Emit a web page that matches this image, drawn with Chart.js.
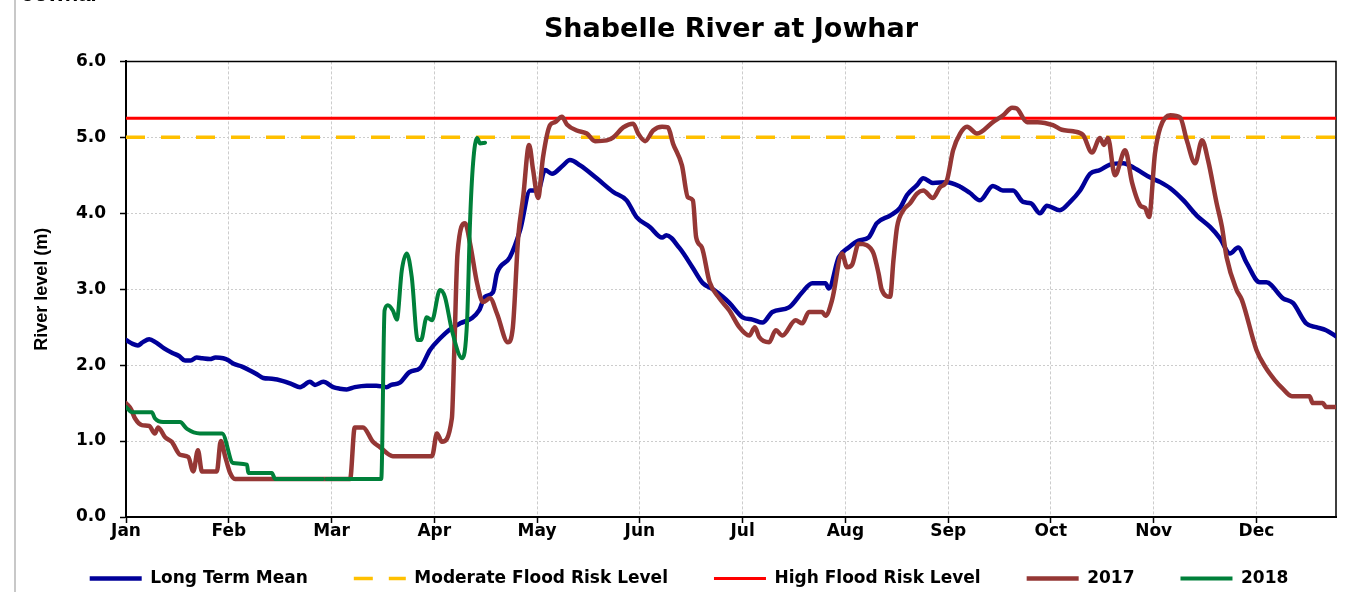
<!DOCTYPE html>
<html><head><meta charset="utf-8">
<script src="https://cdn.jsdelivr.net/npm/chart.js@4.4.1/dist/chart.umd.min.js"></script>
<style>
html,body{margin:0;padding:0;background:#fff;}
#wrap{position:relative;width:1357px;height:592px;overflow:hidden;background:#fff;}
canvas{position:absolute;left:0;top:0;}
#edge{position:absolute;left:14px;top:0;width:2px;height:592px;background:#c8c8c8;}
#cut{position:absolute;left:22px;top:-17px;font:bold 22px "Liberation Sans",Arial,sans-serif;color:#000;line-height:22px;}
</style></head><body>
<div id="wrap"><canvas id="c" width="1357" height="592"></canvas><div id="edge"></div><div id="cut">Jowhar</div></div>
<script>
// ---- data (x = day position along the axis, y = river level in m) ----
const monthLabels = ['Jan','Feb','Mar','Apr','May','Jun','Jul','Aug','Sep','Oct','Nov','Dec'];
const tickDays = [0,31,62,93,124,155,186,217,248,279,310,341];
const axisStart = 0, axisEnd = 365;
const yTicks = [0,1,2,3,4,5,6];

const meanDays = [0,2,3.6,5,7,9,11.5,14,16,17.8,19.5,21.3,23,25.3,27,29.3,31,32.3,35,37.4,39.5,41.4,44,47.4,50,52.5,55.5,57,59.5,62.5,64.5,66.6,69,72.6,75.5,78.6,80,82.6,85.6,88.7,91.7,94.7,97.7,100.8,104.4,106.5,108.3,110.7,111.9,115.8,118.9,121.9,124.3,126.4,128.5,131.8,133.9,137,142,147,151,154,158,161.7,163,167,171,174,177,180,182,186,189,192,195,200,204,207,211,212,215,218,221,224,226.5,230.5,233.5,235.6,238.6,240.5,243.4,247.6,251.6,254.5,257.6,261.5,264.5,267.6,270.6,273,275.7,277.8,281.7,284.8,287.8,290.8,293.8,296.8,300.8,304,309,312,315,319,323,327,330,333,335.5,338,342,344,349,352,356,359,362,365];
const meanLevels = [2.33,2.28,2.26,2.30,2.34,2.30,2.22,2.16,2.12,2.06,2.06,2.10,2.09,2.08,2.10,2.09,2.06,2.02,1.98,1.93,1.88,1.83,1.82,1.79,1.75,1.71,1.78,1.74,1.78,1.71,1.69,1.68,1.71,1.73,1.73,1.71,1.74,1.77,1.91,1.96,2.20,2.35,2.47,2.55,2.62,2.72,2.90,2.96,3.21,3.42,3.78,4.30,4.30,4.57,4.52,4.63,4.70,4.63,4.46,4.28,4.17,3.95,3.82,3.68,3.71,3.54,3.28,3.08,3.00,2.90,2.82,2.63,2.60,2.56,2.70,2.76,2.96,3.08,3.08,3.01,3.42,3.55,3.64,3.68,3.87,3.97,4.07,4.24,4.37,4.46,4.40,4.41,4.35,4.27,4.17,4.36,4.30,4.30,4.15,4.13,4.00,4.10,4.04,4.15,4.30,4.52,4.57,4.64,4.66,4.60,4.47,4.41,4.33,4.17,3.97,3.82,3.67,3.47,3.55,3.35,3.09,3.09,2.88,2.82,2.55,2.50,2.46,2.38];

const y2017Days = [0,1.5,2.7,4.8,7,8.7,9.7,11.8,13.8,16.3,18.8,20.3,21.7,22.9,27.4,28.6,29.9,31.4,32.9,67.6,69,71.5,74.5,76.6,80.5,92.3,93.8,95.3,98.3,99,100,102.3,103.8,105.9,107.7,109.8,111.9,115.2,116.7,118.3,119.8,121.6,122.8,124.3,125.8,127.9,129.4,131.5,133,136,139,141.5,145,147,150,153,154.5,156.6,159,161.7,163.5,165,167.7,169.5,171,172,173.7,176,179,182,185,188,189.7,191,194,196,198,202,204,206,210,211,213,216,217.5,219,221,223.5,225.5,227,228,230.5,231.5,232.6,234.5,236.5,238.6,240.5,243.4,245.5,247.6,249.5,251.6,253.7,256.7,261.5,264.6,267.3,268.7,271.8,275,279.6,282.3,285.7,288.7,291.4,293.8,295,296.2,298.3,301.4,303.5,306,307.4,308.6,310.4,312,315,318,320,322.5,324.6,326.4,329,330.6,332,335,336.6,341,343.6,346.6,348.7,351.7,357,358,361,362,365];
const y2017Levels = [1.50,1.42,1.30,1.21,1.20,1.10,1.18,1.05,0.99,0.82,0.79,0.60,0.88,0.60,0.60,1.00,0.80,0.58,0.50,0.50,1.18,1.18,0.99,0.92,0.80,0.80,1.10,0.99,1.30,2.15,3.47,3.87,3.60,3.08,2.83,2.88,2.68,2.30,2.50,3.68,4.21,4.90,4.57,4.20,4.74,5.16,5.20,5.27,5.17,5.09,5.05,4.95,4.96,5.00,5.13,5.18,5.05,4.95,5.09,5.14,5.13,4.92,4.63,4.21,4.17,3.68,3.55,3.10,2.88,2.72,2.50,2.39,2.50,2.37,2.30,2.46,2.39,2.59,2.55,2.70,2.70,2.65,2.86,3.47,3.29,3.32,3.60,3.58,3.47,3.21,2.99,2.90,3.38,3.82,4.04,4.13,4.26,4.30,4.20,4.34,4.43,4.83,5.05,5.14,5.05,5.20,5.29,5.39,5.38,5.20,5.20,5.16,5.10,5.08,5.03,4.80,4.99,4.90,4.99,4.50,4.83,4.40,4.10,4.07,3.95,4.79,5.13,5.29,5.26,4.96,4.66,4.96,4.70,4.13,3.82,3.42,2.99,2.86,2.20,1.98,1.80,1.70,1.59,1.59,1.50,1.50,1.45,1.45];

const y2018Days = [0,1.8,7.8,8.7,11.2,16.3,18.4,22.3,29,32.3,36.5,36.9,44,45,59.3,59.8,60.5,77,78,79,80.5,81.7,83.2,84.7,86.2,88,89,90.7,92.3,94.7,96.2,98.3,101.4,102.9,103.8,104.7,105.9,106.8,108.3];
const y2018Levels = [1.45,1.38,1.38,1.30,1.25,1.25,1.16,1.10,1.10,0.71,0.69,0.58,0.58,0.50,0.50,null,0.50,0.50,2.72,2.79,2.72,2.60,3.25,3.47,3.16,2.33,2.33,2.63,2.59,2.99,2.90,2.46,2.09,2.59,3.91,4.66,4.99,4.92,4.93];

const moderateLevel = 5.0;
const highLevel = 5.25;

const pts = (xs, ys) => xs.map((x, i) => ({x, y: ys[i]}));
const flat = v => [{x: axisStart, y: v}, {x: axisEnd, y: v}];

const framePlugin = {
  id: 'frame',
  beforeDatasetsDraw(chart) {
    const {ctx, chartArea: a} = chart;
    ctx.save();
    ctx.strokeStyle = '#000';
    ctx.lineWidth = 1.5;
    ctx.beginPath();
    ctx.moveTo(a.left, a.top);
    ctx.lineTo(a.right, a.top);
    ctx.lineTo(a.right, a.bottom);
    ctx.stroke();
    ctx.restore();
  }
};

const boldFont = size => ({family: 'DejaVu Sans', size, weight: 'bold'});
const lineStyle = {pointRadius: 0, cubicInterpolationMode: 'monotone', borderCapStyle: 'round', borderJoinStyle: 'round'};

new Chart(document.getElementById('c'), {
  type: 'line',
  data: {
    datasets: [
      Object.assign({label: 'Long Term Mean', data: pts(meanDays, meanLevels), borderColor: '#000099', backgroundColor: '#000099', borderWidth: 4.5, order: 3}, lineStyle),
      {label: 'Moderate Flood Risk Level', data: flat(moderateLevel), borderColor: '#FFC000', backgroundColor: '#FFC000', borderWidth: 3.5, borderDash: [19, 16], pointRadius: 0, order: 5},
      {label: 'High Flood Risk Level', data: flat(highLevel), borderColor: '#FF0000', backgroundColor: '#FF0000', borderWidth: 3, pointRadius: 0, order: 4},
      Object.assign({label: '2017', data: pts(y2017Days, y2017Levels), borderColor: '#953735', backgroundColor: '#953735', borderWidth: 4.5, order: 2}, lineStyle),
      Object.assign({label: '2018', data: pts(y2018Days, y2018Levels), borderColor: '#00803A', backgroundColor: '#00803A', borderWidth: 4, spanGaps: false, order: 1}, lineStyle)
    ]
  },
  options: {
    responsive: false,
    animation: false,
    events: [],
    layout: {padding: {left: 42, right: 21, top: 0, bottom: -5}},
    plugins: {
      title: {display: true, text: 'Shabelle River at Jowhar', fullSize: false, color: '#000', font: boldFont(27), padding: {top: 14, bottom: 15}},
      legend: {
        position: 'bottom', fullSize: true, align: 'center',
        labels: {usePointStyle: true, pointStyle: 'line', pointStyleWidth: 52, boxWidth: 52, padding: 46, color: '#000', font: boldFont(17),
          sort: (a, b) => a.datasetIndex - b.datasetIndex,
          generateLabels: chart => {
            const items = Chart.defaults.plugins.legend.labels.generateLabels(chart);
            items.forEach(it => {
              const ds = chart.data.datasets[it.datasetIndex];
              it.lineDash = ds.borderDash || [];
              it.lineWidth = ds.borderWidth;
              it.strokeStyle = ds.borderColor;
              it.lineCap = 'butt';
            });
            return items;
          }}
      },
      tooltip: {enabled: false}
    },
    scales: {
      x: {
        type: 'linear', min: axisStart, max: axisEnd,
        afterBuildTicks: s => { s.ticks = tickDays.map(v => ({value: v})); },
        afterFit: s => { s.height = 7; },
        ticks: {callback: (v, i) => monthLabels[i], autoSkip: false, maxRotation: 0, mirror: true, padding: -25, color: '#000', font: boldFont(17)},
        grid: {color: '#cccccc', lineWidth: 1, tickLength: 6, tickColor: '#000', tickWidth: 1.5},
        border: {color: '#000', width: 2, dash: [3, 2]}
      },
      y: {
        min: 0, max: 6,
        afterBuildTicks: s => { s.ticks = yTicks.map(v => ({value: v})); },
        afterFit: s => { s.width = 84; },
        ticks: {callback: v => Number(v).toFixed(1), padding: 14, color: '#000', font: boldFont(17)},
        title: {display: true, text: 'River level (m)', color: '#000', font: {family: 'Liberation Sans', size: 18, weight: 'bold'}, padding: {top: -11, bottom: 0}},
        grid: {color: '#cccccc', lineWidth: 1, tickLength: 6, tickColor: '#000', tickWidth: 1.5},
        border: {color: '#000', width: 2, dash: [2, 2]}
      }
    }
  },
  plugins: [framePlugin]
});
</script>
</body></html>
